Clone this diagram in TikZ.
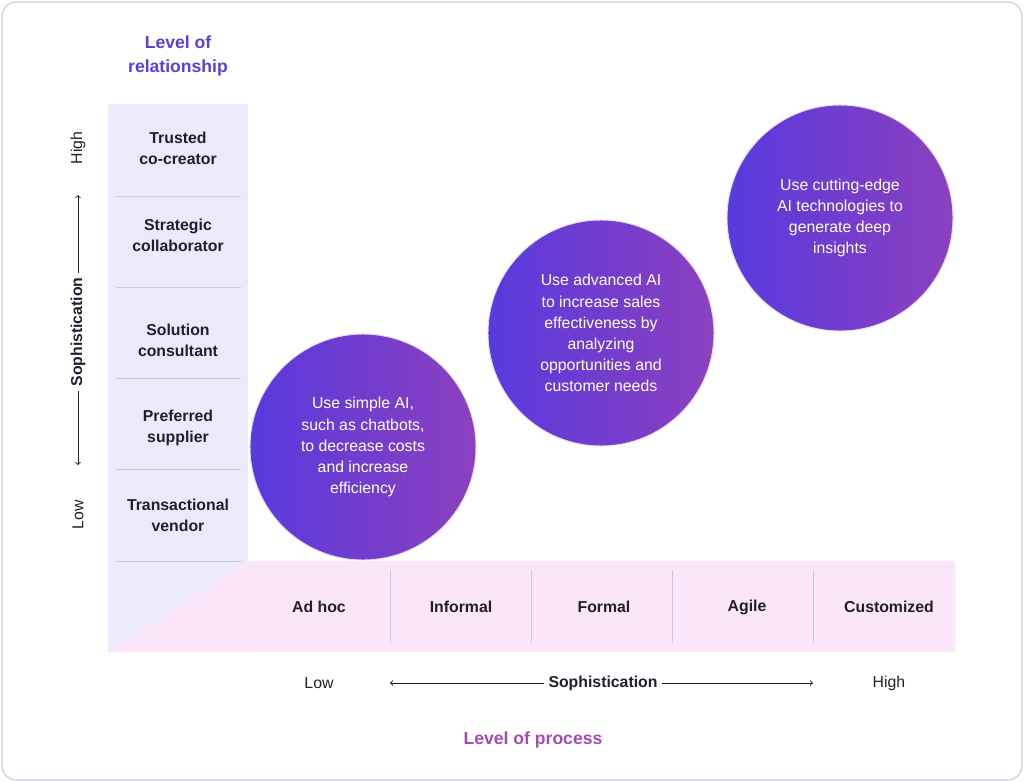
\documentclass[tikz,border=0pt]{standalone}
\usepackage{fontspec}
\setmainfont{Liberation Sans}
\definecolor{relblue}{RGB}{91,63,224}
\definecolor{procpink}{RGB}{162,75,181}
\definecolor{lavender}{RGB}{236,233,251}
\definecolor{pinkrow}{RGB}{250,230,248}
\definecolor{sepgray}{RGB}{205,200,225}
\definecolor{bubleft}{RGB}{88,58,222}
\definecolor{bubright}{RGB}{140,64,190}
\definecolor{textdark}{RGB}{35,30,45}

\begin{document}
\begin{tikzpicture}[x=0.03cm,y=-0.03cm,
    cell/.style={font=\fontsize{13.5}{18}\selectfont\bfseries,text=textdark,align=center},
    axis/.style={font=\fontsize{13.5}{18}\selectfont,text=textdark},
    bubble/.style={circle,minimum size=226*0.03cm,left color=bubleft,right color=bubright,
        draw=white!80!bubright,line width=0.8pt,text=white,align=center,
        font=\fontsize{13.5}{18}\selectfont},
    sep/.style={draw=sepgray,line width=0.8pt}]
        \useasboundingbox (0,0) rectangle (1024,782);
        \draw[draw=sepgray,rounded corners=12pt,line width=1pt] (2,2) rectangle (1022,780);

        % panels
        \fill[lavender] (108,104) rectangle (248,652);
        \fill[pinkrow] (248,561) rectangle (955,652);
        \fill[pinkrow] (108,652) -- (248,561) -- (248,652) -- cycle;

        \foreach \y in {196,287,378,469,561}
            \draw[sep] (116,\y) -- (241,\y);
        \foreach \x in {390,531,672,813}
            \draw[sep] (\x,570) -- (\x,643);

        % relationship levels
        \node[cell] (trusted) at (178,148) {Trusted\\co-creator};
        \node[cell] (strategic) at (178,235) {Strategic\\collaborator};
        \node[cell] (solution) at (178,340) {Solution\\consultant};
        \node[cell] (preferred) at (178,428) {Preferred\\supplier};
        \node[cell] (transact) at (178,515) {Transactional\\vendor};

        % process levels
        \node[cell] (adhoc) at (319,607) {Ad hoc};
        \node[cell] (informal) at (461,607) {Informal};
        \node[cell] (formal) at (604,607) {Formal};
        \node[cell] (agile) at (747,607) {Agile};
        \node[cell] (custom) at (889,607) {Customized};

        \node[font=\fontsize{15}{20}\selectfont\bfseries,text=relblue,align=center] (relTitle) at (178,56) {Level of\\relationship};
        \node[font=\fontsize{15}{20}\selectfont\bfseries,text=procpink] (procTitle) at (533,740) {Level of process};

        % vertical axis
        \node[axis,rotate=90] (vHigh) at (78,148) {High};
        \node[axis,rotate=90] (vLow) at (78,515) {Low};
        \node[axis,rotate=90,font=\fontsize{13.5}{18}\selectfont\bfseries] (vSoph) at (78,332) {Sophistication};
        \coordinate (vT) at (78,195);
        \coordinate (vB) at (78,465);
        \draw[->,thick,textdark] (vSoph.east) -- (vT);
        \draw[->,thick,textdark] (vSoph.west) -- (vB);

        % horizontal axis
        \node[axis] (hLow) at (319,683) {Low};
        \node[axis] (hHigh) at (889,683) {High};
        \node[axis,font=\fontsize{13.5}{18}\selectfont\bfseries] (hSoph) at (603,683) {Sophistication};
        \coordinate (hL) at (390,683);
        \coordinate (hR) at (813,683);
        \draw[->,thick,textdark] (hSoph.west) -- (hL);
        \draw[->,thick,textdark] (hSoph.east) -- (hR);

        % bubbles
        \node[bubble] (simple) at (363,447) {Use simple AI,\\such as chatbots,\\to decrease costs\\and increase\\efficiency};
        \node[bubble] (advanced) at (601,333) {Use advanced AI\\to increase sales\\effectiveness by\\analyzing\\opportunities and\\customer needs};
        \node[bubble] (cutting) at (840,218) {Use cutting-edge\\AI technologies to\\generate deep\\insights};
\end{tikzpicture}
\end{document}
